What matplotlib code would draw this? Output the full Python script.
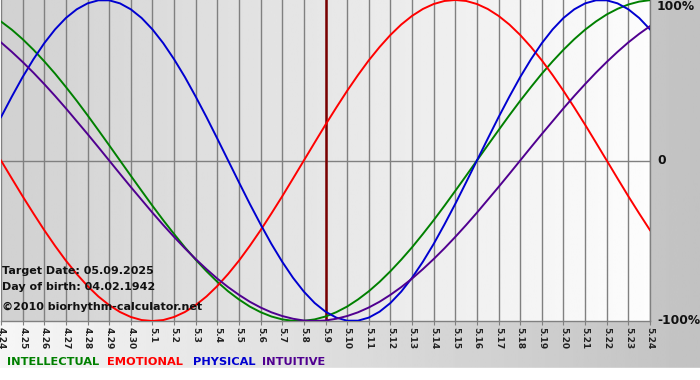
import numpy as np
import matplotlib
matplotlib.use("Agg")
import matplotlib.pyplot as plt

dates = ["4.24", "4.25", "4.26", "4.27", "4.28", "4.29", "4.30", "5.1", "5.2", "5.3",
         "5.4", "5.5", "5.6", "5.7", "5.8", "5.9", "5.10", "5.11", "5.12", "5.13",
         "5.14", "5.15", "5.16", "5.17", "5.18", "5.19", "5.20", "5.21", "5.22", "5.23", "5.24"]
physical = [0.270, 0.398, 0.520, 0.631, 0.731, 0.817, 0.888, 0.942, 0.979, 0.998,
            0.998, 0.979, 0.942, 0.888, 0.817, 0.731, 0.631, 0.520, 0.398, 0.270,
            0.136, 0.000, -0.136, -0.270, -0.398, -0.520, -0.631, -0.731, -0.817, -0.888,
            -0.942, -0.979, -0.998, -0.998, -0.979, -0.942, -0.888, -0.817, -0.731, -0.631,
            -0.520, -0.398, -0.270, -0.136, 0.000, 0.136, 0.270, 0.398, 0.520, 0.631,
            0.731, 0.817, 0.888, 0.942, 0.979, 0.998, 0.998, 0.979, 0.942, 0.888, 0.817]
emotional = [0.000, -0.112, -0.223, -0.330, -0.434, -0.532, -0.624, -0.707, -0.782, -0.847,
             -0.901, -0.944, -0.975, -0.994, -1.000, -0.994, -0.975, -0.944, -0.901, -0.847,
             -0.782, -0.707, -0.624, -0.532, -0.434, -0.330, -0.223, -0.112, 0.000, 0.112,
             0.223, 0.330, 0.434, 0.532, 0.624, 0.707, 0.782, 0.847, 0.901, 0.944,
             0.975, 0.994, 1.000, 0.994, 0.975, 0.944, 0.901, 0.847, 0.782, 0.707,
             0.624, 0.532, 0.434, 0.330, 0.223, 0.112, 0.000, -0.112, -0.223, -0.330, -0.434]
intellectual = [0.866, 0.815, 0.756, 0.690, 0.618, 0.541, 0.458, 0.372, 0.282, 0.189,
                0.095, 0.000, -0.095, -0.189, -0.282, -0.372, -0.458, -0.541, -0.618, -0.690,
                -0.756, -0.815, -0.866, -0.910, -0.945, -0.972, -0.990, -0.999, -0.999, -0.990,
                -0.972, -0.945, -0.910, -0.866, -0.815, -0.756, -0.690, -0.618, -0.541, -0.458,
                -0.372, -0.282, -0.189, -0.095, 0.000, 0.095, 0.189, 0.282, 0.372, 0.458,
                0.541, 0.618, 0.690, 0.756, 0.815, 0.866, 0.910, 0.945, 0.972, 0.990, 0.999]
intuitive = [0.736, 0.677, 0.614, 0.547, 0.476, 0.402, 0.325, 0.245, 0.165, 0.083,
             0.000, -0.083, -0.165, -0.245, -0.325, -0.402, -0.476, -0.547, -0.614, -0.677,
             -0.736, -0.789, -0.837, -0.880, -0.916, -0.946, -0.969, -0.986, -0.997, -1.000,
             -0.997, -0.986, -0.969, -0.946, -0.916, -0.880, -0.837, -0.789, -0.736, -0.677,
             -0.614, -0.547, -0.476, -0.402, -0.325, -0.245, -0.165, -0.083, 0.000, 0.083,
             0.165, 0.245, 0.325, 0.402, 0.476, 0.547, 0.614, 0.677, 0.736, 0.789, 0.837]
target_label = "5.9"
y_labels = ["100%", "0", "-100%"]
y_label_vals = [1, 0, -1]
info_lines = ["Target Date: 05.09.2025", "Day of birth: 04.02.1942", "\u00a92010 biorhythm-calculator.net"]
legend_names = ["INTELLECTUAL", "EMOTIONAL", "PHYSICAL", "INTUITIVE"]

colors = {"INTELLECTUAL": "#008000", "EMOTIONAL": "#ff0000",
          "PHYSICAL": "#0000d0", "INTUITIVE": "#500090"}
series = {"INTELLECTUAL": intellectual, "EMOTIONAL": emotional,
          "PHYSICAL": physical, "INTUITIVE": intuitive}

W, H = 700, 380
fig = plt.figure(figsize=(W / 100, H / 100), dpi=100)

def fx(x):
    return x / W

def fy(y):
    return 1 - y / H

# figure background gradient
bg = fig.add_axes([0, 0, 1, 1], zorder=-10)
bg.set_xlim(0, W)
bg.set_ylim(H, 0)
bg.axis("off")
grad = np.linspace(0.965, 0.76, 256)[None, :]
bg.imshow(grad, extent=[0, W, 368, 0], cmap="gray", vmin=0, vmax=1, aspect="auto")
bg.add_patch(plt.Rectangle((0, 368), W, H - 368, color="white"))

# plot axes
left_px, right_px, top_px, bottom_px = 1, 650, 0, 321
ax = fig.add_axes([fx(left_px), fy(bottom_px), (right_px - left_px) / W, (bottom_px - top_px) / H])
n_days = len(dates)
x = np.arange(n_days)
xs = np.linspace(0, n_days - 1, len(physical))
ax.set_xlim(0, n_days - 1)
ax.set_ylim(-1, 1)
pgrad = np.linspace(0.82, 0.99, 256)[None, :]
ax.imshow(pgrad, extent=[0, n_days - 1, -1, 1], cmap="gray", vmin=0, vmax=1,
          aspect="auto", zorder=0)

for xi in x:
    ax.axvline(xi, color="#808080", lw=1.0, zorder=1)
ax.axhline(0, color="#808080", lw=1.0, zorder=1)
ax.axvline(dates.index(target_label), color="#7a0000", lw=1.8, zorder=2)

for name in ["INTELLECTUAL", "EMOTIONAL", "PHYSICAL", "INTUITIVE"]:
    ax.plot(xs, series[name], color=colors[name], lw=1.4, zorder=3)

for s in ["top", "left"]:
    ax.spines[s].set_visible(False)
for s in ["bottom", "right"]:
    ax.spines[s].set_color("#808080")
    ax.spines[s].set_linewidth(1.0)

ax.set_xticks(x)
ax.set_xticklabels(dates, rotation=270, fontsize=6.5, fontweight="bold", color="#222222")
ax.tick_params(axis="x", length=3, color="#808080", pad=1)
ax.set_yticks([])

for lab, v in zip(y_labels, y_label_vals):
    ypx = 160.5 - v * 160.5
    if v == 1:
        ypx = 7
    fig.text(fx(657), fy(ypx), lab, fontsize=8.8, fontweight="bold", va="center", ha="left", color="#111111")

for t, ypx in zip(info_lines, [271, 287, 307]):
    fig.text(fx(2), fy(ypx), t, fontsize=8.0, fontweight="bold", va="center", ha="left", color="#111111")

leg_x = [7, 107, 193, 262]
for name, lx in zip(legend_names, leg_x):
    fig.text(fx(lx), fy(362), name, fontsize=8.2, fontweight="bold", va="center", ha="left",
             color=colors[name])

fig.savefig("out.png", dpi=100)
